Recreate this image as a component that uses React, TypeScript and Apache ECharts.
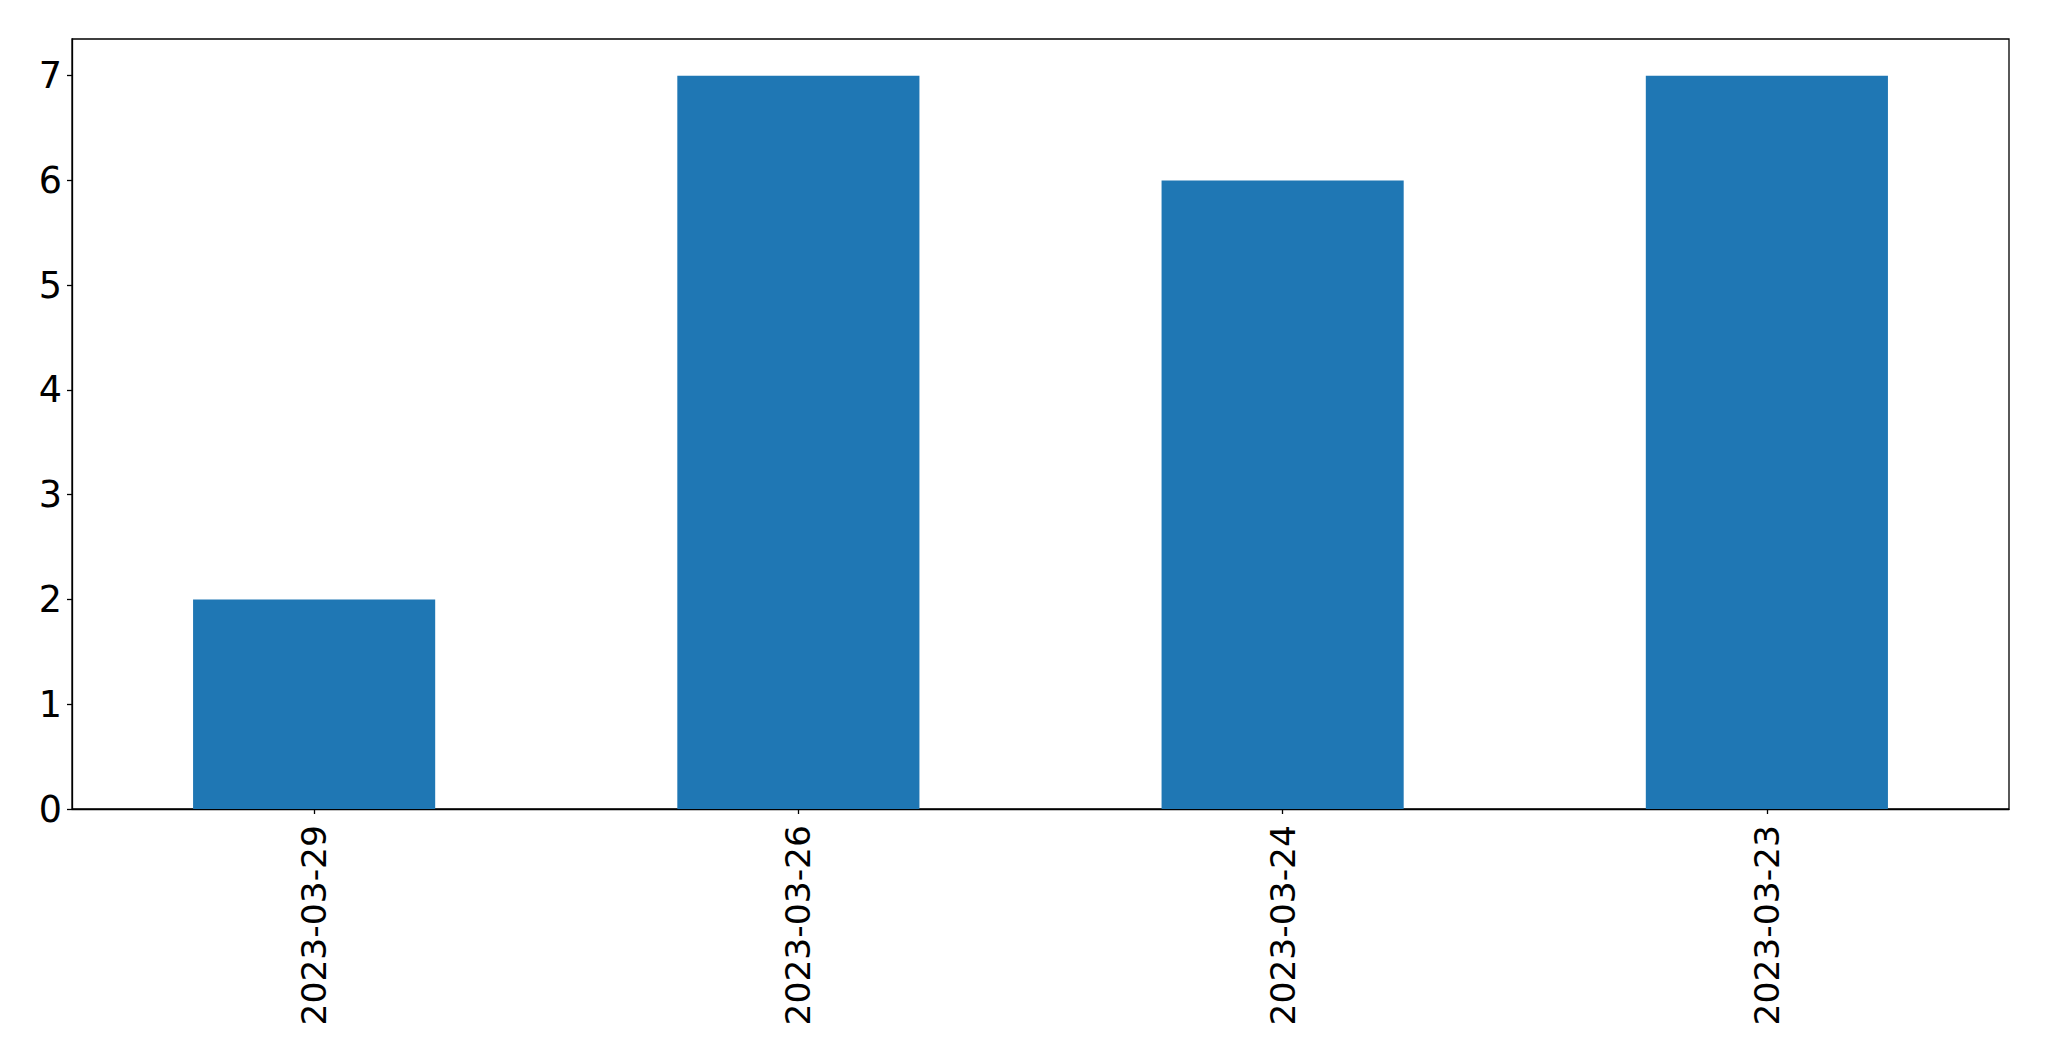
import React, { useEffect, useRef } from "react";
import * as echarts from "echarts";

const categories = ["2023-03-29", "2023-03-26", "2023-03-24", "2023-03-23"];
const values = [2, 7, 6, 7];
const yTicks = [0, 1, 2, 3, 4, 5, 6, 7];

export default function App() {
  const ref = useRef<HTMLDivElement>(null);
  useEffect(() => {
    if (!ref.current) return;
    const chart = echarts.init(ref.current, null, { renderer: "svg" });
    const font = "DejaVu Sans";
    chart.setOption({
      animation: false,
      backgroundColor: "#ffffff",
      grid: {
        left: 72,
        top: 39,
        width: 1937,
        height: 770,
        show: true,
        borderColor: "#000000",
        borderWidth: 1.3,
        containLabel: false,
      },
      xAxis: {
        type: "category",
        data: categories,
        boundaryGap: true,
        axisLine: { show: true, lineStyle: { color: "#000000", width: 1.3 } },
        axisTick: { show: true, alignWithLabel: true, length: 5, lineStyle: { color: "#000000", width: 1.3 } },
        axisLabel: {
          rotate: 90,
          margin: 16,
          fontSize: 34.5,
          fontFamily: font,
          color: "#000000",
          interval: 0,
        },
        splitLine: { show: false },
      },
      yAxis: {
        type: "value",
        min: 0,
        max: 7.35,
        interval: 1,
        axisLine: { show: true, lineStyle: { color: "#000000", width: 1.3 } },
        axisTick: { show: true, length: 5, lineStyle: { color: "#000000", width: 1.3 } },
        axisLabel: {
          margin: 10,
          fontSize: 36.5,
          fontFamily: font,
          color: "#000000",
          showMaxLabel: false,
          formatter: (v: number) => (yTicks.includes(v) ? String(v) : ""),
        },
        splitLine: { show: false },
      },
      series: [
        {
          type: "bar",
          data: values,
          barWidth: "50%",
          itemStyle: { color: "#1f77b4" },
        },
      ],
    });
    return () => chart.dispose();
  }, []);
  return (
    <div
      ref={ref}
      style={{ position: "fixed", left: 0, top: 0, width: 2049, height: 1061, background: "#fff" }}
    />
  );
}
